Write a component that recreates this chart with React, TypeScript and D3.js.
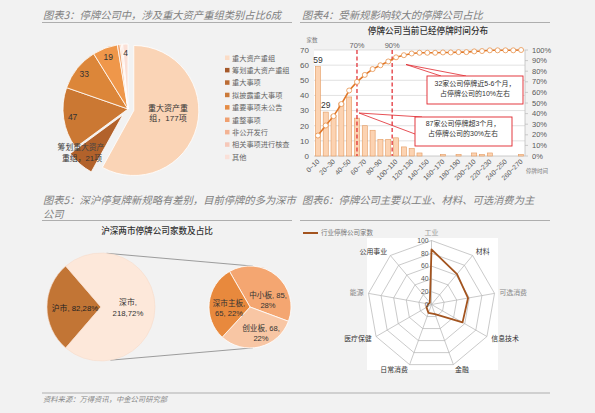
import React from 'react';
import * as d3 from 'd3';

const SANS = '"Liberation Sans", "Noto Sans CJK SC", sans-serif';
const CJK = '"Noto Sans CJK SC", sans-serif';

// ---------- Panel 1: reorganisation categories ----------
const reorgCats = ['重大资产重组', '筹划重大资产重组', '重大事项', '拟披露重大事项', '重要事项未公告', '重整事项', '非公开发行', '相关事项进行核查', '其他'];
const reorgVals = [177, 21, 47, 33, 19, 2, 1, 1, 4];
const reorgColors = ['#fad4b6', '#b2622b', '#cb7833', '#dc8639', '#ef974a', '#f2a670', '#f5b896', '#f7cbb9', '#fbdfd5'];
const reorgLegendColors = ['#fbdcc6', '#a5592a', '#bb6c35', '#cb7a3a', '#e58c45', '#f0a070', '#f3b394', '#f6c8b9', '#fae0d8'];

// ---------- Panel 2: suspension duration ----------
const durCats = ['0~10', '10~20', '20~30', '30~40', '40~50', '50~60', '60~70', '70~80', '80~90', '90~100', '100~110', '110~120', '120~130', '130~140', '140~150', '150~160', '160~170', '170~180', '180~190', '190~200', '200~210', '210~220', '220~230', '230~240', '240~250', '250~260', '260~270'];
const durVals = [59, 29, 27, 35, 39, 25, 20, 17, 11, 11, 12, 6, 5, 2, 0, 0, 1, 0, 1, 0, 2, 1, 2, 0, 0, 0, 1];
const cumPct = [19.3, 28.8, 37.6, 49.0, 61.8, 69.9, 76.5, 82.0, 85.6, 89.2, 93.1, 95.1, 96.7, 97.4, 97.4, 97.4, 97.7, 97.7, 98.0, 98.0, 98.7, 99.0, 99.7, 99.7, 99.7, 99.7, 100];
const leftTicks = [0, 10, 20, 30, 40, 50, 60, 70];
const rightTicks = [0, 10, 20, 30, 40, 50, 60, 70, 80, 90, 100];
const labelledBars = [0, 1];
const markers = [{ idx: 5, label: '70%', mode: 'center' }, { idx: 10, label: '90%', mode: 'start' }];

// ---------- Panel 3: SH / SZ ----------
const marketCats = ['沪市', '深市'];
const marketVals = [82, 218];
const marketPct = ['28%', '72%'];
const szCats = ['中小板', '创业板', '深市主板'];
const szVals = [85, 68, 65];
const szPct = ['28%', '22%', '22%'];

// ---------- Panel 4: industries ----------
const industryCats = ['工业', '材料', '可选消费', '信息技术', '金融', '日常消费', '医疗保健', '能源', '公用事业'];
const industryVals = [86, 62, 58, 56, 16, 14, 9, 5, 4];
const radarTicks = [0, 20, 40, 60, 80, 100];

const BG = '#f2f2f2';

function Panel1() {
  const cx = 128, cy = 109, R = 65;
  const arcs = d3.pie<number>().sort(null).value(d => d)(reorgVals);
  const arc = d3.arc<d3.PieArcDatum<number>>().innerRadius(0).outerRadius(R);
  const explode = [6, 8, 0, 0, 0, 0, 0, 0, 0];
  const numLabel = [2, 3, 4, 8];
  return (
    <g>
      {arcs.map((a, i) => {
        const mid = (a.startAngle + a.endAngle) / 2;
        const dx = Math.sin(mid) * explode[i];
        const dy = -Math.cos(mid) * explode[i];
        return <path key={i} d={arc(a) || ''} transform={`translate(${cx + dx},${cy + dy})`} fill={reorgColors[i]} stroke="#ffffff" strokeWidth={0.8} />;
      })}
      {numLabel.map(i => {
        const a = arcs[i];
        const mid = (a.startAngle + a.endAngle) / 2;
        const r = 56;
        return <text key={i} x={cx + Math.sin(mid) * r} y={cy - Math.cos(mid) * r} dy="0.35em" textAnchor="middle" fontSize={8.5} fontFamily={SANS} fill="#333">{reorgVals[i]}</text>;
      })}
      <text x={168} y={108} dy="0.35em" textAnchor="middle" fontSize={8} fontFamily={SANS} fill="#333">重大资产重</text>
      <text x={168} y={118} dy="0.35em" textAnchor="middle" fontSize={8} fontFamily={SANS} fill="#333">{`组，${reorgVals[0]}项`}</text>
      <text x={81} y={147} dy="0.35em" textAnchor="middle" fontSize={7.8} fontFamily={SANS} fill="#444">筹划重大资产</text>
      <text x={82} y={158} dy="0.35em" textAnchor="middle" fontSize={7.8} fontFamily={SANS} fill="#333">{`重组，${reorgVals[1]}项`}</text>
      {reorgCats.map((c, i) => (
        <g key={c}>
          <rect x={225} y={55.5 + i * 12.4} width={4.5} height={4.5} fill={reorgLegendColors[i]} />
          <text x={232} y={58 + i * 12.4} dy="0.35em" fontSize={7.2} fontFamily={CJK} fill="#666">{c}</text>
        </g>
      ))}
    </g>
  );
}

function Panel2() {
  const x0 = 314, x1 = 525, yTop = 50, yBot = 156;
  const x = d3.scaleBand<string>().domain(durCats).range([x0, x1]).paddingInner(0.35).paddingOuter(0.175);
  const y = d3.scaleLinear().domain([0, 70]).range([yBot, yTop]);
  const y2 = d3.scaleLinear().domain([0, 100]).range([yBot, yTop]);
  const bw = x.bandwidth();
  const step = x.step();
  const cxOf = (i: number) => (x(durCats[i]) || 0) + bw / 2;
  const line = d3.line<number>().x((_, i) => cxOf(i)).y(d => y2(d));
  const red = '#e0252b';
  return (
    <g>
      <text x={428} y={31} dy="0.35em" textAnchor="middle" fontSize={8.6} fontFamily={CJK} fill="#333" fontWeight={500}>停牌公司当前已经停牌时间分布</text>
      <text x={312} y={40} dy="0.35em" textAnchor="middle" fontSize={5.5} fontFamily={CJK} fill="#777">家数</text>
      <rect x={x0} y={yTop} width={x1 - x0} height={yBot - yTop} fill="#ffffff" />
      {leftTicks.filter(t => t > 0).map(t => (
        <line key={t} x1={x0} x2={x1} y1={y(t)} y2={y(t)} stroke="#d9d9d9" strokeWidth={0.8} />
      ))}
      <line x1={x0} x2={x1} y1={yBot} y2={yBot} stroke="#bfbfbf" strokeWidth={0.8} />
      <line x1={x1} x2={x1} y1={yTop} y2={yBot} stroke="#bfbfbf" strokeWidth={0.8} />
      {rightTicks.map(t => (
        <line key={t} x1={x1} x2={x1 + 3} y1={y2(t)} y2={y2(t)} stroke="#bfbfbf" strokeWidth={0.8} />
      ))}
      {leftTicks.map(t => (
        <text key={t} x={309} y={y(t)} dy="0.35em" textAnchor="end" fontSize={8} fontFamily={SANS} fill="#595959">{t}</text>
      ))}
      {rightTicks.map(t => (
        <text key={t} x={532} y={y2(t)} dy="0.35em" textAnchor="start" fontSize={7.5} fontFamily={SANS} fill="#595959">{`${t}%`}</text>
      ))}
      {durVals.map((v, i) => v > 0 && (
        <rect key={i} x={x(durCats[i])} y={y(v)} width={bw} height={yBot - y(v)} fill="#fcd3b2" stroke="#e39a60" strokeWidth={0.6} />
      ))}
      {labelledBars.map(i => (
        <text key={i} x={cxOf(i)} y={y(durVals[i]) - 7} dy="0.35em" textAnchor="middle" fontSize={8.5} fontFamily={SANS} fill="#333">{durVals[i]}</text>
      ))}
      {markers.map(m => {
        const mx = m.mode === 'center' ? cxOf(m.idx) : x0 + step * m.idx;
        return (
          <g key={m.label}>
            <line x1={mx} x2={mx} y1={yTop} y2={yBot} stroke={red} strokeWidth={1.2} strokeDasharray="4,2.5" />
            <text x={mx} y={45} dy="0.35em" textAnchor="middle" fontSize={7.5} fontFamily={SANS} fill="#666">{m.label}</text>
          </g>
        );
      })}
      <path d={line(cumPct) || ''} fill="none" stroke="#e0782a" strokeWidth={1.6} />
      {cumPct.map((v, i) => (
        <circle key={i} cx={cxOf(i)} cy={y2(v)} r={2.5} fill="#ffffff" stroke="#e8924a" strokeWidth={0.8} />
      ))}
      {durCats.map((c, i) => i % 2 === 0 && (
        <text key={c} transform={`translate(${cxOf(i) + 2},${yBot + 6}) rotate(-45)`} textAnchor="end" fontSize={6.8} fontFamily={SANS} fill="#595959">{c}</text>
      ))}
      <text x={537} y={171} dy="0.35em" textAnchor="middle" fontSize={5.5} fontFamily={CJK} fill="#777">停牌时间</text>
      {/* callouts */}
      <line x1={406} y1={64.5} x2={441} y2={76} stroke={red} strokeWidth={0.8} />
      <line x1={406} y1={64.5} x2={466} y2={76} stroke={red} strokeWidth={0.8} />
      <rect x={427} y={76} width={96} height={28} fill="#ffffff" stroke={red} strokeWidth={0.9} />
      <text x={475} y={83.5} dy="0.35em" textAnchor="middle" fontSize={7} fontFamily={SANS} fill="#333">32家公司停牌近5-6个月，</text>
      <text x={475} y={94} dy="0.35em" textAnchor="middle" fontSize={7} fontFamily={SANS} fill="#333">占停牌公司的10%左右</text>
      <line x1={359} y1={113} x2={422} y2={117} stroke={red} strokeWidth={0.8} />
      <line x1={359} y1={113} x2={415} y2={134} stroke={red} strokeWidth={0.8} />
      <rect x={415} y={117} width={97} height={29} fill="#ffffff" stroke={red} strokeWidth={0.9} />
      <text x={463} y={123.5} dy="0.35em" textAnchor="middle" fontSize={7} fontFamily={SANS} fill="#333">87家公司停牌超3个月，</text>
      <text x={463} y={134} dy="0.35em" textAnchor="middle" fontSize={7} fontFamily={SANS} fill="#333">占停牌公司的30%左右</text>
    </g>
  );
}

function Panel3() {
  const lcx = 101, lcy = 307, lR = 54;
  const rcx = 250, rcy = 307, rR = 41;
  const totalL = d3.sum(marketVals);
  const span0 = (marketVals[0] / totalL) * 2 * Math.PI;
  const start = -Math.PI / 2 - span0 / 2;
  const lArcs = d3.pie<number>().sort(null).value(d => d).startAngle(start).endAngle(start + 2 * Math.PI)(marketVals);
  const lArc = d3.arc<d3.PieArcDatum<number>>().innerRadius(0).outerRadius(lR);
  const rStart = -Math.PI / 6;
  const rArcs = d3.pie<number>().sort(null).value(d => d).startAngle(rStart).endAngle(rStart + 2 * Math.PI)(szVals);
  const rArc = d3.arc<d3.PieArcDatum<number>>().innerRadius(0).outerRadius(rR);
  const lColors = ['#c27535', '#fde8da'];
  const rColors = ['#f4a671', '#f8c6a4', '#e8893d'];
  const pt = (cx: number, cy: number, r: number, deg: number) => [cx + Math.sin(deg * Math.PI / 180) * r, cy - Math.cos(deg * Math.PI / 180) * r];
  const a1 = pt(lcx, lcy, lR, 6), b1 = pt(rcx, rcy, rR, 4);
  const a2 = pt(lcx, lcy, lR, 170), b2 = pt(rcx, rcy, rR, 176);
  const rLabels = [
    { x: 268, y: 295, l1: `${szCats[0]}, ${szVals[0]},`, l2: szPct[0] },
    { x: 261, y: 328, l1: `${szCats[1]}, ${szVals[1]},`, l2: szPct[1] },
    { x: 229, y: 303, l1: `${szCats[2]},`, l2: `${szVals[2]}, ${szPct[2]}` },
  ];
  return (
    <g>
      <text x={157} y={231} dy="0.35em" textAnchor="middle" fontSize={8.6} fontFamily={CJK} fill="#333" fontWeight={500}>沪深两市停牌公司家数及占比</text>
      <line x1={a1[0]} y1={a1[1]} x2={b1[0]} y2={b1[1]} stroke="#777" strokeWidth={0.7} />
      <line x1={a2[0]} y1={a2[1]} x2={b2[0]} y2={b2[1]} stroke="#777" strokeWidth={0.7} />
      {lArcs.map((a, i) => (
        <path key={i} d={lArc(a) || ''} transform={`translate(${lcx},${lcy})`} fill={lColors[i]} stroke="#f6dccb" strokeWidth={0.6} />
      ))}
      {rArcs.map((a, i) => (
        <path key={i} d={rArc(a) || ''} transform={`translate(${rcx},${rcy})`} fill={rColors[i]} stroke="#ffffff" strokeWidth={0.8} />
      ))}
      <text x={75} y={308} dy="0.35em" textAnchor="middle" fontSize={7.8} fontFamily={SANS} fill="#222">{`${marketCats[0]}, ${marketVals[0]},${marketPct[0]}`}</text>
      <text x={128} y={302} dy="0.35em" textAnchor="middle" fontSize={7.8} fontFamily={SANS} fill="#333">{`${marketCats[1]},`}</text>
      <text x={128} y={313} dy="0.35em" textAnchor="middle" fontSize={7.8} fontFamily={SANS} fill="#333">{`${marketVals[1]},${marketPct[1]}`}</text>
      {rLabels.map((l, i) => (
        <g key={i}>
          <text x={l.x} y={l.y} dy="0.35em" textAnchor="middle" fontSize={7.6} fontFamily={SANS} fill="#333">{l.l1}</text>
          <text x={l.x} y={l.y + 10.5} dy="0.35em" textAnchor="middle" fontSize={7.6} fontFamily={SANS} fill="#333">{l.l2}</text>
        </g>
      ))}
    </g>
  );
}

function Panel4() {
  const cx = 431.5, cy = 304.5, R = 64;
  const r = d3.scaleLinear().domain([0, 100]).range([0, R]);
  const n = industryCats.length;
  const ang = (i: number) => (i * 2 * Math.PI) / n;
  const ring = d3.lineRadial<number>().angle((_, i) => ang(i)).radius(d => r(d)).curve(d3.curveLinearClosed);
  const labelColors = ['#999', '#333', '#888', '#333', '#333', '#333', '#333', '#888', '#333'];
  return (
    <g>
      <line x1={303} x2={318} y1={233} y2={233} stroke="#a3541f" strokeWidth={2} />
      <text x={321} y={233} dy="0.35em" fontSize={6.5} fontFamily={CJK} fill="#777">行业停牌公司家数</text>
      <rect x={367} y={238} width={131} height={132} fill="#ffffff" />
      <g transform={`translate(${cx},${cy})`}>
        {radarTicks.filter(t => t > 0).map(t => (
          <path key={t} d={ring(industryCats.map(() => t)) || ''} fill="none" stroke="#b3b3b3" strokeWidth={0.7} />
        ))}
        {industryCats.map((c, i) => (
          <line key={c} x1={0} y1={0} x2={Math.sin(ang(i)) * R} y2={-Math.cos(ang(i)) * R} stroke="#b3b3b3" strokeWidth={0.7} />
        ))}
        <path d={ring(industryVals) || ''} fill="none" stroke="#a3541f" strokeWidth={1.8} strokeLinejoin="round" />
        {radarTicks.map(t => (
          <text key={t} x={-3} y={-r(t)} dy="0.35em" textAnchor="end" fontSize={6.8} fontFamily={SANS} fill="#555">{t}</text>
        ))}
        {industryCats.map((c, i) => {
          const a = ang(i);
          const s = Math.sin(a);
          const lr = i === 0 ? 72 : 69;
          const anchor = Math.abs(s) < 0.01 ? 'middle' : s > 0 ? 'start' : 'end';
          return <text key={c} x={s * lr} y={-Math.cos(a) * lr} dy="0.35em" textAnchor={anchor} fontSize={6.9} fontFamily={CJK} fill={labelColors[i]}>{c}</text>;
        })}
      </g>
    </g>
  );
}

export default function App() {
  const titleStyle = { fontStyle: 'italic' as const };
  return (
    <div style={{ position: 'absolute', left: 0, top: 0, width: 595, height: 413 }}>
      <svg width={595} height={413} viewBox="0 0 595 413" style={{ display: 'block' }}>
        <rect x={0} y={0} width={595} height={413} fill={BG} />
        <text x={43} y={19} fontSize={10.3} fontFamily={CJK} fill="#808080" style={titleStyle}>图表3：停牌公司中，涉及重大资产重组类别占比6成</text>
        <line x1={42} x2={292} y1={22.5} y2={22.5} stroke="#a6a6a6" strokeWidth={0.9} />
        <text x={302} y={19} fontSize={10.3} fontFamily={CJK} fill="#808080" style={titleStyle}>图表4：受新规影响较大的停牌公司占比</text>
        <line x1={300} x2={550} y1={22.5} y2={22.5} stroke="#a6a6a6" strokeWidth={0.9} />
        <text x={43} y={204} fontSize={10.3} fontFamily={CJK} fill="#808080" style={titleStyle}>图表5：深沪停复牌新规略有差别，目前停牌的多为深市</text>
        <text x={43} y={217.5} fontSize={10.3} fontFamily={CJK} fill="#808080" style={titleStyle}>公司</text>
        <line x1={42} x2={292} y1={220.5} y2={220.5} stroke="#a6a6a6" strokeWidth={0.9} />
        <text x={302} y={204} fontSize={10.3} fontFamily={CJK} fill="#808080" style={titleStyle}>图表6：停牌公司主要以工业、材料、可选消费为主</text>
        <line x1={300} x2={550} y1={220.5} y2={220.5} stroke="#a6a6a6" strokeWidth={0.9} />
        <line x1={42} x2={550} y1={393} y2={393} stroke="#a6a6a6" strokeWidth={0.9} />
        <text x={43} y={402} fontSize={7.3} fontFamily={CJK} fill="#888" style={titleStyle}>资料来源：万得资讯，中金公司研究部</text>
        <Panel1 />
        <Panel2 />
        <Panel3 />
        <Panel4 />
      </svg>
    </div>
  );
}
